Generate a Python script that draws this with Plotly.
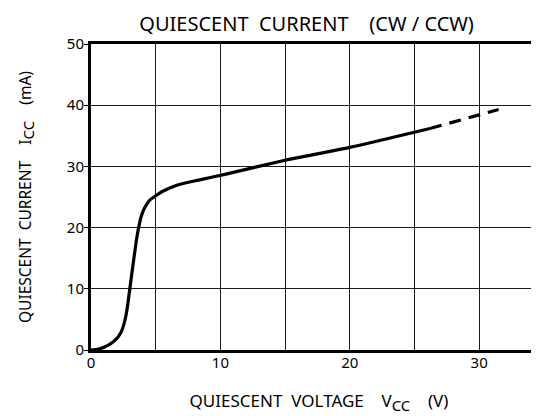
import plotly.graph_objects as go

# Solid part of the curve
vcc_solid = [0, 0.5, 1.0, 1.5, 2.0, 2.3, 2.5, 2.7, 2.85, 3.0, 3.2, 3.4, 3.55, 3.7, 3.85, 4.05, 4.3, 4.6,
             5.0, 5.5, 6.0, 6.75, 8.4, 10.35, 15.0, 20.0, 26.2]
icc_solid = [0, 0.1, 0.45, 1.0, 1.9, 2.8, 3.9, 5.6, 7.6, 10.0, 13.2, 16.3, 18.5, 20.2, 21.6, 22.8, 23.8, 24.6,
             25.2, 25.9, 26.4, 27.0, 27.8, 28.7, 31.0, 33.1, 36.2]
# Dashed extrapolation
vcc_dash = [26.2, 31.5]
icc_dash = [36.2, 39.3]

y_ticks = [0, 10, 20, 30, 40, 50]
x_ticks = [0, 10, 20, 30]

FONT = "Noto Sans"

fig = go.Figure()
fig.add_trace(go.Scatter(x=vcc_solid, y=icc_solid, mode="lines",
                         line=dict(color="black", width=3.2, shape="spline", smoothing=0.5),
                         showlegend=False, hoverinfo="skip"))
fig.add_trace(go.Scatter(x=vcc_dash, y=icc_dash, mode="lines",
                         line=dict(color="black", width=3.2, dash="12px,8px"),
                         showlegend=False, hoverinfo="skip"))

sub = '<sub><span style="font-size:15px">CC</span></sub>'

fig.update_layout(
    width=539, height=416,
    margin=dict(l=83, r=0, t=36, b=74, autoexpand=False),
    paper_bgcolor="white", plot_bgcolor="white",
    font=dict(family=FONT, color="black", size=15),
    title=dict(text="QUIESCENT  CURRENT    (CW / CCW)", x=0.554, xanchor="center",
               y=0.962, yanchor="middle", font=dict(size=20, family=FONT, color="black")),
    xaxis=dict(range=[0, 35.24], tickvals=x_ticks, ticktext=[str(v) for v in x_ticks],
               showgrid=True, gridcolor="#1a1a1a", gridwidth=1.4,
               minor=dict(dtick=5, showgrid=True, gridcolor="#1a1a1a", gridwidth=1.4),
               showline=True, linecolor="black", linewidth=3, mirror=True,
               ticks="", zeroline=False, tickfont=dict(size=15), automargin=False,
               ticklabelstandoff=-3,
               title=dict(text="QUIESCENT  VOLTAGE    V" + sub + "    (V)", standoff=25,
                          font=dict(size=17))),
    yaxis=dict(range=[0, 50], tickvals=y_ticks, ticktext=[str(v) for v in y_ticks],
               showgrid=True, gridcolor="#1a1a1a", gridwidth=1.4,
               showline=True, linecolor="black", linewidth=3, mirror=False,
               ticks="outside", ticklen=4, tickcolor="black", tickwidth=1.4,
               zeroline=False, tickfont=dict(size=15), automargin=False,
               ticklabelstandoff=-3,
               title=dict(text="QUIESCENT  CURRENT    I" + sub + "    (mA)", standoff=32,
                          font=dict(size=15.5))),
)

fig.write_html("out.html")
